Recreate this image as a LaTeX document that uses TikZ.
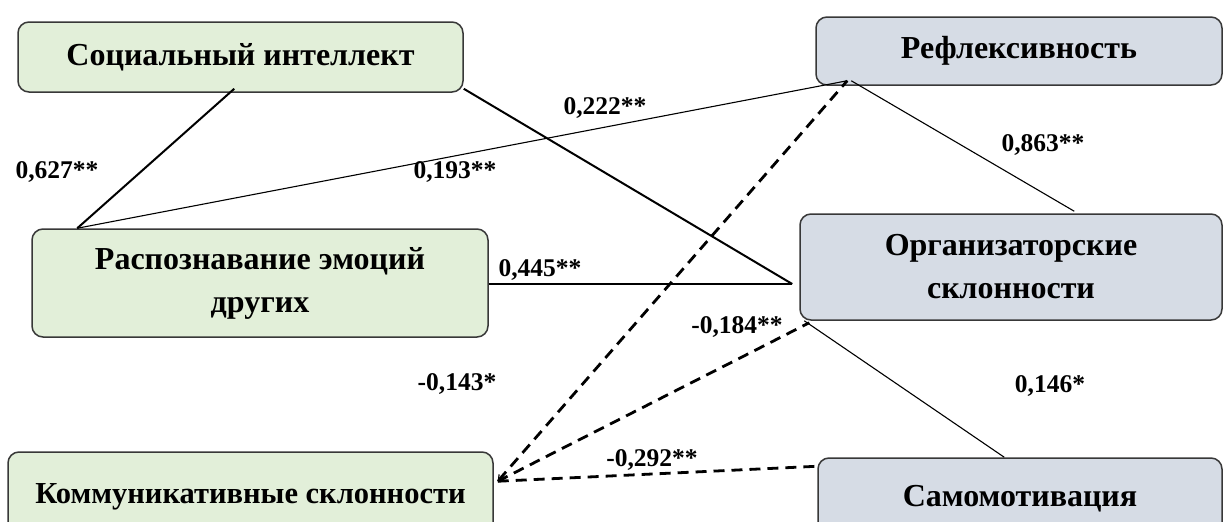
\documentclass[tikz,border=0pt]{standalone}
\usepackage{fontspec}
\setmainfont{Liberation Serif}
\usetikzlibrary{calc,arrows.meta}
\definecolor{greenfill}{HTML}{E2EFD9}
\definecolor{bluefill}{HTML}{D6DCE5}
\definecolor{edgegrey}{HTML}{383838}
\begin{document}
\begin{tikzpicture}[x=1pt,y=-1pt,
  box/.style={draw=edgegrey, line width=1.5pt, rounded corners=11pt, inner sep=0pt,
    font=\fontsize{32}{43}\selectfont\bfseries, align=center},
  gbox/.style={box, fill=greenfill},
  bbox/.style={box, fill=bluefill},
  lbl/.style={font=\fontsize{25.5}{30}\selectfont\bfseries, inner sep=0pt},
  thinl/.style={line width=1.1pt},
  thickl/.style={line width=2pt},
  dashl/.style={line width=2.8pt, dash pattern=on 11pt off 7pt}]
\path[use as bounding box] (0,0) rectangle (1224,522);
\clip (0,0) rectangle (1224,522);
\fill[white] (0,0) rectangle (1224,522);

% boxes
\node[gbox, minimum width=445pt, minimum height=70pt] (S) at (240.5,57) {Социальный интеллект};
\node[bbox, minimum width=406pt, minimum height=68pt] (Ref) at (1019,51) {Рефлексивность};
\node[gbox, minimum width=456pt, minimum height=108pt] (R) at (260,283) {Распознавание эмоций\\других};
\node[bbox, minimum width=422pt, minimum height=106pt] (O) at (1011,267) {Организаторские\\склонности};
\node[gbox, minimum width=485pt, minimum height=90pt, font=\fontsize{30.5}{40}\selectfont\bfseries] (K) at (250.5,497) {Коммуникативные склонности};
\node[bbox, minimum width=404pt, minimum height=82pt] (Sam) at (1020,499) {Самомотивация};

% connector end points
\coordinate (s1) at ($(S.south west)+(217,-4)$);
\coordinate (r1) at ($(R.north west)+(46,0)$);
\coordinate (f1) at ($(Ref.south west)+(32,-5)$);
\coordinate (s2) at ($(S.south east)+(0,-4)$);
\coordinate (o1) at ($(O.west)+(-7,17)$);
\coordinate (r2) at ($(R.east)+(0,1)$);
\coordinate (f2) at ($(Ref.south west)+(36,-5)$);
\coordinate (o2) at ($(O.north west)+(275,-2)$);
\coordinate (o3) at ($(O.south west)+(5,0)$);
\coordinate (m1) at ($(Sam.north west)+(187,0)$);
\coordinate (k1) at ($(K.north east)+(4,30)$);
\coordinate (o4) at ($(O.south west)+(10,2)$);
\coordinate (m2) at ($(Sam.north west)+(0,9)$);

% solid connectors
\draw[thickl] (s1) -- (r1);
\draw[thinl] (r1) -- (f1);
\draw[thickl] (s2) -- (o1);
\draw[thinl] (r2) -- (o1);
\draw[thinl] (f2) -- (o2);
\draw[thinl] (o3) -- (m1);

% dashed connectors
\draw[dashl, {Straight Barb[length=5pt,width=7pt,line width=1.2pt]}-] (k1) -- (f1);
\draw[dashl] (k1) -- (o4);
\draw[dashl] (k1) -- (m2);

% labels
\node[lbl] (l1) at (57,172) {0,627**};
\node[lbl] (l2) at (605,108) {0,222**};
\node[lbl] (l3) at (455,172) {0,193**};
\node[lbl] (l4) at (1043,145) {0,863**};
\node[lbl] (l5) at (540,270) {0,445**};
\node[lbl] (l6) at (737,327) {-0,184**};
\node[lbl] (l7) at (457,384) {-0,143*};
\node[lbl] (l8) at (1050,386) {0,146*};
\node[lbl] (l9) at (652,460) {-0,292**};
\end{tikzpicture}
\end{document}
